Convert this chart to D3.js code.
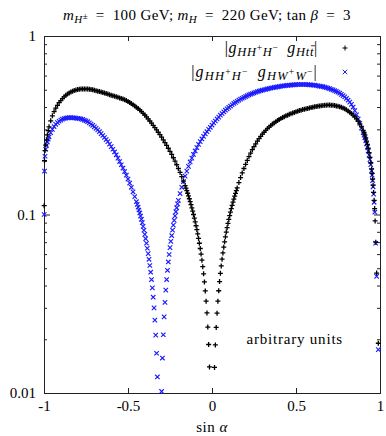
<!DOCTYPE html>
<html>
<head>
<meta charset="utf-8">
<script src="https://cdn.jsdelivr.net/npm/d3@7"></script>
<style>
body { margin: 0; background: #fff; }
svg { display: block; font-family: "Liberation Serif", "DejaVu Serif", serif; }
</style>
</head>
<body>
<svg id="chart"></svg>
<script>
// Data: [sin alpha, value]
let httPoints = [
    [-0.999,0.112],[-0.997,0.200],[-0.994,0.228],[-0.99,0.245],[-0.985,0.262],[-0.98,0.279],[-0.975,0.295],
    [-0.97,0.310],[-0.96,0.335],[-0.95,0.357],[-0.94,0.377],[-0.93,0.394],[-0.92,0.409],[-0.91,0.423],
    [-0.90,0.435],[-0.89,0.446],[-0.88,0.456],[-0.87,0.465],[-0.86,0.473],[-0.85,0.480],[-0.84,0.486],
    [-0.83,0.491],[-0.82,0.495],[-0.81,0.498],[-0.80,0.501],[-0.79,0.503],[-0.78,0.504],[-0.77,0.505],
    [-0.76,0.505],[-0.75,0.505],[-0.74,0.504],[-0.73,0.503],[-0.72,0.502],[-0.71,0.500],[-0.70,0.497],
    [-0.69,0.494],[-0.68,0.491],[-0.67,0.488],[-0.66,0.485],[-0.65,0.482],[-0.64,0.479],[-0.63,0.476],
    [-0.62,0.473],[-0.61,0.469],[-0.60,0.466],[-0.59,0.463],[-0.58,0.460],[-0.57,0.457],[-0.56,0.454],
    [-0.55,0.450],[-0.54,0.447],[-0.53,0.443],[-0.52,0.439],[-0.51,0.435],[-0.50,0.430],[-0.49,0.424],
    [-0.48,0.418],[-0.47,0.412],[-0.46,0.406],[-0.45,0.399],[-0.44,0.392],[-0.43,0.385],[-0.42,0.377],
    [-0.41,0.369],[-0.40,0.361],[-0.39,0.352],[-0.38,0.343],[-0.37,0.334],[-0.36,0.325],[-0.35,0.316],
    [-0.34,0.307],[-0.33,0.298],[-0.32,0.289],[-0.31,0.280],[-0.30,0.271],[-0.29,0.262],[-0.28,0.253],
    [-0.27,0.244],[-0.26,0.235],[-0.25,0.226],[-0.24,0.217],[-0.23,0.208],[-0.22,0.199],[-0.21,0.190],
    [-0.20,0.181],[-0.19,0.172],[-0.18,0.163],[-0.17,0.154],[-0.16,0.145],[-0.155,0.1405],
    [-0.150,0.136],[-0.145,0.1315],[-0.140,0.127],[-0.135,0.1225],[-0.130,0.118],[-0.125,0.1135],
    [-0.120,0.109],[-0.115,0.1045],[-0.110,0.100],[-0.105,0.0955],[-0.100,0.091],[-0.095,0.0865],
    [-0.090,0.0822],[-0.085,0.0778],[-0.080,0.0734],[-0.075,0.069],[-0.070,0.0645],[-0.065,0.060],
    [-0.060,0.0555],[-0.055,0.051],[-0.050,0.0465],[-0.045,0.0419],[-0.040,0.0373],[-0.035,0.0327],
    [-0.030,0.0281],[-0.025,0.0234],[-0.020,0.0187],[-0.015,0.014],
    [0.015,0.0139],[0.020,0.0186],[0.025,0.0233],[0.030,0.028],[0.035,0.0327],[0.040,0.0374],
    [0.045,0.0421],[0.050,0.0468],[0.055,0.0515],[0.060,0.0562],[0.065,0.0609],[0.070,0.0656],
    [0.075,0.0703],[0.080,0.075],[0.085,0.0797],[0.090,0.0844],[0.095,0.0891],[0.100,0.0938],
    [0.105,0.0985],[0.110,0.1032],[0.115,0.1079],[0.120,0.1126],[0.125,0.1173],[0.130,0.122],
    [0.135,0.1267],[0.140,0.1314],[0.145,0.1361],[0.150,0.1408],
    [0.16,0.151],[0.17,0.161],[0.18,0.171],[0.19,0.181],[0.20,0.191],[0.21,0.201],[0.22,0.211],
    [0.23,0.221],[0.24,0.231],[0.25,0.240],[0.26,0.249],[0.27,0.258],[0.28,0.266],[0.29,0.274],
    [0.30,0.282],[0.31,0.289],[0.32,0.296],[0.33,0.303],[0.34,0.309],[0.35,0.315],[0.36,0.321],
    [0.37,0.326],[0.38,0.331],[0.39,0.336],[0.40,0.341],[0.41,0.345],[0.42,0.349],[0.43,0.353],
    [0.44,0.357],[0.45,0.360],[0.46,0.364],[0.47,0.367],[0.48,0.370],[0.49,0.373],[0.50,0.376],
    [0.51,0.379],[0.52,0.382],[0.53,0.384],[0.54,0.387],[0.55,0.389],[0.56,0.391],[0.57,0.393],
    [0.58,0.395],[0.59,0.397],[0.60,0.399],[0.61,0.401],[0.62,0.403],[0.63,0.404],[0.64,0.406],
    [0.65,0.407],[0.66,0.408],[0.67,0.409],[0.68,0.409],[0.69,0.410],[0.70,0.410],[0.71,0.409],
    [0.72,0.409],[0.73,0.408],[0.74,0.406],[0.75,0.404],[0.76,0.402],[0.77,0.399],[0.78,0.395],
    [0.79,0.391],[0.80,0.386],[0.81,0.380],[0.82,0.374],[0.83,0.367],[0.84,0.360],[0.85,0.352],
    [0.86,0.343],[0.87,0.333],[0.88,0.322],[0.89,0.310],[0.90,0.296],[0.905,0.288],[0.91,0.279],
    [0.915,0.269],[0.92,0.258],[0.925,0.247],[0.93,0.235],[0.935,0.222],[0.94,0.209],[0.945,0.195],
    [0.95,0.180],[0.953,0.170],[0.956,0.158],[0.959,0.146],[0.962,0.133],[0.965,0.120],
    [0.968,0.108],[0.971,0.092],[0.975,0.070],[0.980,0.047],[0.990,0.019]
]

let hwwPoints = [
    [-0.999,0.100],[-0.997,0.175],[-0.994,0.212],[-0.99,0.232],[-0.985,0.244],[-0.98,0.255],[-0.975,0.264],
    [-0.97,0.272],[-0.96,0.287],[-0.95,0.300],[-0.94,0.311],[-0.93,0.320],[-0.92,0.327],[-0.91,0.333],
    [-0.90,0.338],[-0.89,0.342],[-0.88,0.345],[-0.87,0.347],[-0.86,0.348],[-0.85,0.349],[-0.84,0.349],
    [-0.83,0.348],[-0.82,0.348],[-0.81,0.347],[-0.80,0.346],[-0.79,0.345],[-0.78,0.343],[-0.77,0.341],
    [-0.76,0.338],[-0.75,0.335],[-0.74,0.331],[-0.73,0.326],[-0.72,0.321],[-0.71,0.316],[-0.70,0.310],
    [-0.69,0.304],[-0.68,0.298],[-0.67,0.291],[-0.66,0.284],[-0.65,0.277],[-0.64,0.270],[-0.63,0.263],
    [-0.62,0.256],[-0.61,0.248],[-0.60,0.240],[-0.59,0.232],[-0.58,0.224],[-0.57,0.216],[-0.56,0.207],
    [-0.55,0.198],[-0.54,0.190],[-0.53,0.182],[-0.52,0.174],[-0.51,0.166],[-0.50,0.158],[-0.49,0.150],
    [-0.48,0.142],[-0.47,0.134],[-0.46,0.126],[-0.45,0.118],[-0.445,0.114],
    [-0.440,0.110],[-0.435,0.106],[-0.430,0.102],[-0.425,0.098],[-0.420,0.094],[-0.415,0.090],
    [-0.410,0.0858],[-0.405,0.0816],[-0.400,0.0774],[-0.395,0.0732],[-0.390,0.069],[-0.385,0.0647],
    [-0.380,0.0604],[-0.375,0.0561],[-0.370,0.0518],[-0.365,0.0475],[-0.360,0.0432],[-0.355,0.0388],
    [-0.350,0.0344],[-0.345,0.030],[-0.340,0.0256],[-0.335,0.0211],[-0.330,0.0167],[-0.325,0.0123],
    [-0.300,0.0102],[-0.295,0.0157],[-0.290,0.0212],[-0.285,0.0267],[-0.280,0.0322],[-0.275,0.0377],
    [-0.270,0.0432],[-0.265,0.0487],[-0.260,0.0542],[-0.255,0.0597],[-0.250,0.0652],[-0.245,0.0707],
    [-0.240,0.0762],[-0.235,0.0817],[-0.230,0.0872],[-0.225,0.0927],[-0.220,0.0982],[-0.215,0.1037],
    [-0.210,0.1092],[-0.205,0.1147],[-0.200,0.120],
    [-0.19,0.131],[-0.18,0.142],[-0.17,0.153],[-0.16,0.164],[-0.15,0.175],[-0.14,0.186],[-0.13,0.197],
    [-0.12,0.207],[-0.11,0.217],[-0.10,0.227],[-0.09,0.237],[-0.08,0.247],[-0.07,0.256],[-0.06,0.265],
    [-0.05,0.274],[-0.04,0.283],[-0.03,0.291],[-0.02,0.300],[-0.01,0.308],[0.00,0.317],[0.01,0.326],
    [0.02,0.334],[0.03,0.343],[0.04,0.351],[0.05,0.360],[0.06,0.368],[0.07,0.376],[0.08,0.384],
    [0.09,0.391],[0.10,0.398],[0.11,0.405],[0.12,0.412],[0.13,0.419],[0.14,0.425],[0.15,0.431],
    [0.16,0.437],[0.17,0.443],[0.18,0.448],[0.19,0.453],[0.20,0.458],[0.21,0.463],[0.22,0.468],
    [0.23,0.472],[0.24,0.476],[0.25,0.480],[0.26,0.484],[0.27,0.488],[0.28,0.491],[0.29,0.494],
    [0.30,0.497],[0.31,0.500],[0.32,0.503],[0.33,0.506],[0.34,0.508],[0.35,0.511],[0.36,0.513],
    [0.37,0.515],[0.38,0.517],[0.39,0.519],[0.40,0.521],[0.41,0.523],[0.42,0.525],[0.43,0.526],
    [0.44,0.528],[0.45,0.529],[0.46,0.530],[0.47,0.531],[0.48,0.532],[0.49,0.533],[0.50,0.534],
    [0.51,0.535],[0.52,0.535],[0.53,0.535],[0.54,0.535],[0.55,0.535],[0.56,0.535],[0.57,0.534],
    [0.58,0.533],[0.59,0.532],[0.60,0.531],[0.61,0.530],[0.62,0.528],[0.63,0.526],[0.64,0.524],
    [0.65,0.522],[0.66,0.520],[0.67,0.517],[0.68,0.514],[0.69,0.511],[0.70,0.507],[0.71,0.503],
    [0.72,0.499],[0.73,0.494],[0.74,0.489],[0.75,0.484],[0.76,0.478],[0.77,0.471],[0.78,0.464],
    [0.79,0.456],[0.80,0.447],[0.81,0.437],[0.82,0.426],[0.83,0.414],[0.84,0.400],[0.85,0.382],
    [0.86,0.362],[0.87,0.343],[0.88,0.324],[0.89,0.305],[0.90,0.287],[0.905,0.278],[0.91,0.269],
    [0.915,0.259],[0.92,0.249],[0.925,0.238],[0.93,0.227],[0.935,0.215],[0.94,0.203],[0.945,0.190],
    [0.95,0.176],[0.953,0.166],[0.956,0.155],[0.959,0.143],[0.962,0.130],[0.965,0.117],
    [0.969,0.103],[0.974,0.069],[0.980,0.045],[0.990,0.0175]
]

let xTicks = [-1, -0.5, 0, 0.5, 1]
let xTickLabels = ['-1', '-0.5', '0', '0.5', '1']
let yTicks = [0.01, 0.1, 1]
let yTickLabels = ['0.01', '0.1', '1']
let yMinorTicks = [0.02,0.03,0.04,0.05,0.06,0.07,0.08,0.09,0.2,0.3,0.4,0.5,0.6,0.7,0.8,0.9]

// Dimensions
let width = 386
let height = 436
let plot = {left: 44, right: 380, top: 36, bottom: 393}

let scale = {
    x: d3.scaleLinear().domain([-1, 1]).range([plot.left, plot.right]),
    y: d3.scaleLog().domain([0.01, 1]).range([plot.bottom, plot.top])
}

let svg = d3.select('#chart')
    .attr('width', width)
    .attr('height', height)

// Rich text helper: parts = [text, {italic, size, shift, bar}]
function rich(sel, parts, baseSize) {
    let cur = 0
    let bars = []
    parts.forEach(p => {
        let o = p[1] || {}
        let shift = o.shift || 0
        let ts = sel.append('tspan')
            .attr('dy', shift - cur)
            .style('font-style', o.italic ? 'italic' : 'normal')
            .style('font-size', (o.size || baseSize) + 'px')
            .text(p[0])
        if (o.bar) bars.push({node: ts.node(), size: o.size || baseSize})
        cur = shift
    })
    // overline (t-bar) drawn over the last glyph of the marked span
    bars.forEach(b => {
        let n = b.node
        let i = n.getNumberOfChars() - 1
        let s = n.getStartPositionOfChar(i)
        let e = n.getEndPositionOfChar(i)
        svg.append('line')
            .attr('x1', s.x + 1.2).attr('x2', e.x + 0.8)
            .attr('y1', s.y - b.size * 0.82).attr('y2', s.y - b.size * 0.82)
            .attr('stroke', '#000').attr('stroke-width', 0.8)
    })
}

// Axes (ticks drawn inwards)
let axisStyle = g => {
    g.select('.domain').remove()
    g.selectAll('.tick line').attr('stroke', '#222')
    g.selectAll('.tick text')
        .style('font-family', '"Liberation Serif", "DejaVu Serif", serif')
        .style('font-size', '15px')
        .attr('fill', '#000')
}

svg.append('g')
    .attr('transform', `translate(0,${plot.bottom})`)
    .call(d3.axisBottom(scale.x).tickValues(xTicks)
        .tickFormat((d, i) => xTickLabels[i]).tickSize(-5).tickPadding(7))
    .call(axisStyle)

svg.append('g')
    .attr('transform', `translate(0,${plot.top})`)
    .call(d3.axisTop(scale.x).tickValues(xTicks).tickFormat('').tickSize(-5))
    .call(axisStyle)

svg.append('g')
    .attr('transform', `translate(${plot.left},0)`)
    .call(d3.axisLeft(scale.y).tickValues(yTicks)
        .tickFormat((d, i) => yTickLabels[i]).tickSize(-6).tickPadding(8))
    .call(axisStyle)

svg.append('g')
    .attr('transform', `translate(${plot.left},0)`)
    .call(d3.axisLeft(scale.y).tickValues(yMinorTicks).tickFormat('').tickSize(-3))
    .call(axisStyle)

svg.append('g')
    .attr('transform', `translate(${plot.right},0)`)
    .call(d3.axisRight(scale.y).tickValues(yTicks).tickFormat('').tickSize(-6))
    .call(axisStyle)

svg.append('g')
    .attr('transform', `translate(${plot.right},0)`)
    .call(d3.axisRight(scale.y).tickValues(yMinorTicks).tickFormat('').tickSize(-3))
    .call(axisStyle)

// Frame
svg.append('rect')
    .attr('x', plot.left + 0.5)
    .attr('y', plot.top + 0.5)
    .attr('width', plot.right - plot.left)
    .attr('height', plot.bottom - plot.top)
    .attr('fill', 'none')
    .attr('stroke', '#222')
    .attr('stroke-width', 1)

// Markers
let plusPath = 'M-2.5,0H2.5M0,-2.5V2.5'
let crossPath = 'M-2.2,-2.2L2.2,2.2M-2.2,2.2L2.2,-2.2'
let blue = '#1a1aff'

svg.append('g')
    .selectAll('path')
    .data(hwwPoints.filter(d => d[1] >= 0.01))
    .enter()
    .append('path')
    .attr('d', crossPath)
    .attr('transform', d => `translate(${scale.x(d[0])},${scale.y(d[1])})`)
    .attr('fill', 'none')
    .attr('stroke', blue)
    .attr('stroke-width', 1.15)

svg.append('g')
    .selectAll('path')
    .data(httPoints.filter(d => d[1] >= 0.01))
    .enter()
    .append('path')
    .attr('d', plusPath)
    .attr('transform', d => `translate(${scale.x(d[0])},${scale.y(d[1])})`)
    .attr('fill', 'none')
    .attr('stroke', '#000')
    .attr('stroke-width', 1.3)

// Legend
let sub = {italic: true, size: 12.5, shift: 3}
let supInSub = {size: 9.5, shift: -2}
let legend = [
    {parts: [['|'], ['g', {italic: true}], ['HH', sub], ['+', supInSub], ['H', sub], ['\u2212', supInSub], ['\u2002'],
             ['g', {italic: true}], ['Ht', sub], ['t', {italic: true, size: 12.5, shift: 3, bar: true}], ['|']],
     path: plusPath, color: '#000', y: 53, spacing: 0.7},
    {parts: [['|'], ['g', {italic: true}], ['HH', sub], ['+', supInSub], ['H', sub], ['\u2212', supInSub], ['\u2002'],
             ['g', {italic: true}], ['HW', sub], ['+', supInSub], ['W', sub], ['\u2212', supInSub], ['|']],
     path: crossPath, color: blue, y: 77, spacing: 1.2}
]

legend.forEach(l => {
    let t = svg.append('text')
        .attr('x', 318)
        .attr('y', l.y)
        .attr('text-anchor', 'end')
        .style('font-size', '16px')
        .style('letter-spacing', l.spacing + 'px')
    rich(t, l.parts, 16)
    svg.append('path')
        .attr('d', l.path)
        .attr('transform', `translate(345,${l.y - 5})`)
        .attr('fill', 'none')
        .attr('stroke', l.color)
        .attr('stroke-width', 1)
})

// Title
let title = svg.append('text')
    .attr('x', 207)
    .attr('y', 20)
    .attr('text-anchor', 'middle')
    .style('font-size', '15px')
    .style('letter-spacing', '0.4px')
rich(title, [['m', {italic: true}], ['H', {italic: true, size: 11, shift: 3}], ['\u00b1', {size: 9, shift: -1}],
    ['\u2002=\u2002100 GeV; ', {shift: 0}], ['m', {italic: true}], ['H', {italic: true, size: 11, shift: 3}],
    ['\u2002=\u2002220 GeV; tan ', {shift: 0}], ['\u03b2', {italic: true}], ['\u2002=\u20023']], 15)

// Axis label
let xlab = svg.append('text')
    .attr('x', scale.x(0))
    .attr('y', 432)
    .attr('text-anchor', 'middle')
    .style('font-size', '15px')
    .style('letter-spacing', '0.5px')
rich(xlab, [['sin '], ['\u03b1', {italic: true}]], 15)

// Note
svg.append('text')
    .attr('x', 343)
    .attr('y', 344)
    .attr('text-anchor', 'end')
    .style('font-size', '15px')
    .style('letter-spacing', '0.8px')
    .text('arbitrary units')
</script>
</body>
</html>
